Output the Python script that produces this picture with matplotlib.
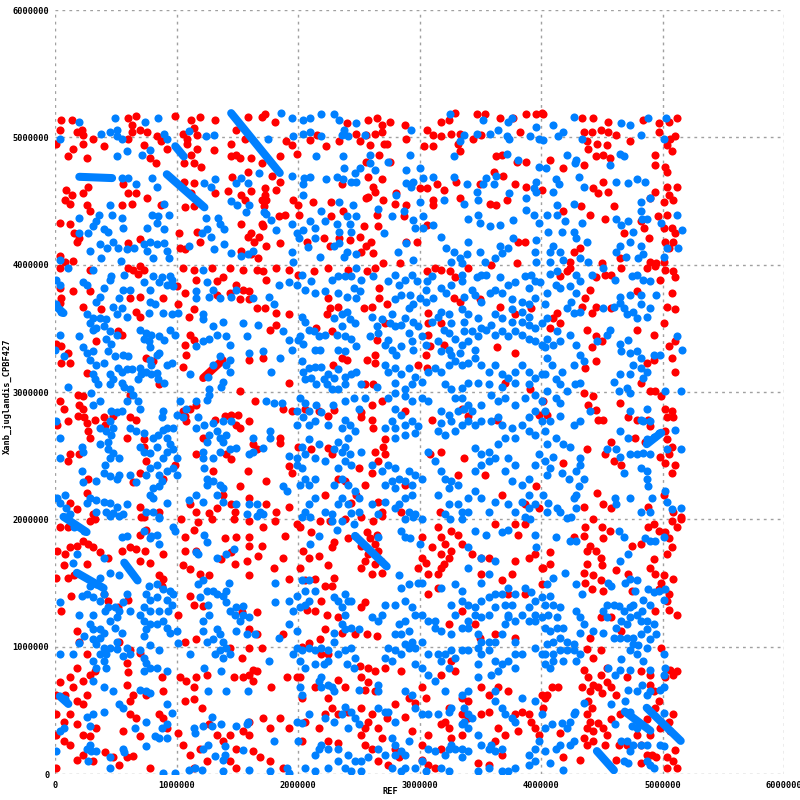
import matplotlib
matplotlib.use("Agg")
import matplotlib.pyplot as plt

# hit positions in Mb: (REF, Xanb_juglandis_CPBF427)
# red = forward hits, blue = reverse hits

red_top = [
    (0.05,5.14),(0.14,5.14),(0.04,5.06),(0.18,5.04),(0.23,5.02),(0.22,5.06),(0.31,4.99),(0.23,4.95),
    (0.01,4.95),(0.15,4.91),(0.11,4.85),(0.26,4.84),(0.40,4.93),(0.60,5.15),(0.67,5.17),(0.63,5.10),
    (0.63,5.04),(0.70,5.06),(0.76,5.04),(0.60,4.99),(0.73,4.94),(0.78,4.84),(0.83,4.80),(0.92,4.91),
    (0.87,4.97),(0.84,5.01),(0.99,5.17),(1.05,5.03),(1.09,4.99),(1.12,5.14),(1.19,5.16),(1.17,5.02),
    (1.14,5.07),(1.32,5.14),(1.09,4.95),(1.12,4.86),(1.17,4.91),(1.14,4.80),(1.20,4.77),(1.06,4.80),
    (1.31,4.90),(1.45,4.95),(1.49,4.86),(1.45,4.85),(1.52,4.84),(1.61,4.84),(1.70,4.80),(1.59,5.16),
    (1.70,5.16),(1.49,5.06),(1.56,4.99),(1.59,4.73),(0.09,4.59),(0.14,4.55),(0.08,4.51),(0.12,4.48),
    (0.23,4.56),(0.27,4.61),(0.26,4.47),(0.29,4.42),(0.56,4.63),(0.60,4.56),(0.67,4.56),(0.76,4.52),
    (0.63,4.48),(0.55,4.47),(0.87,4.47),(1.06,4.65),(1.14,4.64),(1.12,4.56),(1.07,4.45),(1.14,4.46),
    (1.32,4.56),(1.42,4.58),(1.53,4.55),(1.56,4.51),(1.61,4.58),(1.70,4.51),(1.72,4.46),(1.46,4.69),
    (0.04,4.33),(0.12,4.32),(0.16,4.25),(0.20,4.21),(0.18,4.18),(1.02,4.25),(1.17,4.26),(1.19,4.18),
    (1.53,4.32),(1.61,4.25),(1.64,4.18),(1.59,4.22),(1.70,4.32),(1.68,4.22),(0.60,4.17),(0.70,4.20),
    (1.03,4.13),(1.07,4.12),(1.53,4.11),(1.61,4.08),(1.67,4.05),(0.04,4.07),(0.08,4.02),(0.15,4.03),
    (1.81,5.12),(1.73,5.18),(2.40,5.11),(2.58,5.14),(2.65,5.15),(2.76,5.12),(2.69,5.10),(2.88,5.10),
    (3.18,5.12),(3.24,5.14),(3.29,5.19),(3.47,5.18),(3.54,5.18),(3.66,5.15),(3.77,5.15),(3.88,5.18),
    (3.96,5.18),(4.01,5.19),(2.10,4.98),(2.16,5.02),(1.95,4.94),(1.99,4.87),(1.90,4.97),(2.48,5.03),
    (2.56,5.02),(2.63,5.03),(2.69,5.04),(2.71,4.95),(2.59,4.94),(2.51,4.97),(2.89,4.99),(3.06,5.06),
    (3.11,5.02),(3.18,5.01),(3.26,5.03),(3.33,5.03),(3.44,4.99),(3.51,5.02),(3.83,5.04),(3.04,4.93),
    (3.11,4.93),(3.32,4.95),(3.33,4.89),(3.63,4.85),(3.68,4.86),(3.80,4.81),(3.88,4.81),(2.73,4.95),
    (1.85,4.85),(2.23,4.93),(2.34,4.97),(2.67,4.86),(2.56,4.81),(2.76,4.81),(1.79,4.70),(1.85,4.65),
    (1.82,4.59),(1.73,4.60),(2.36,4.63),(2.58,4.69),(2.69,4.67),(2.62,4.61),(2.58,4.53),(2.63,4.57),
    (2.81,4.56),(3.00,4.60),(3.06,4.60),(3.14,4.63),(3.20,4.59),(3.30,4.65),(3.50,4.63),(3.61,4.73),
    (3.69,4.70),(3.79,4.63),(3.88,4.61),(1.73,4.55),(1.74,4.51),(1.96,4.51),(2.00,4.47),(2.12,4.49),
    (2.27,4.49),(2.56,4.52),(2.70,4.51),(2.80,4.48),(2.89,4.47),(3.11,4.51),(3.11,4.47),(3.33,4.52),
    (3.58,4.48),(3.63,4.47),(3.72,4.51),(1.71,4.30),(1.84,4.38),(1.89,4.39),(2.01,4.39),(2.27,4.38),
    (2.37,4.42),(2.54,4.30),(2.65,4.39),(2.66,4.30),(2.87,4.38),(3.06,4.31),(1.85,4.17),(1.74,4.15),
    (2.07,4.18),(2.21,4.21),(2.26,4.15),(2.34,4.21),(2.43,4.19),(2.51,4.22),(2.56,4.15),(2.60,4.18),
    (2.52,4.10),(2.62,4.09),(2.70,4.01),(2.89,4.18),(2.98,4.18),(2.84,4.01),(3.81,4.18),(3.87,4.18),
    (3.80,4.01),(3.59,4.00),
    (4.02,5.18),(4.34,5.15),(4.43,5.15),(4.55,5.12),(4.35,5.04),(4.42,5.04),(4.49,5.06),(4.55,5.04),
    (4.62,5.02),(4.38,4.97),(4.46,4.95),(4.54,4.94),(4.39,4.91),(4.45,4.85),(4.51,4.86),(4.57,4.84),
    (4.73,4.97),(4.84,5.14),(4.97,5.11),(5.05,5.12),(5.12,5.15),(4.97,5.04),(5.06,4.99),(5.10,5.01),
    (5.04,4.94),(5.08,4.89),(4.94,4.86),(4.94,4.78),(5.02,4.77),(5.04,4.73),(4.07,4.82),(4.18,4.76),
    (4.35,4.78),(4.51,4.65),(4.43,4.60),(4.47,4.56),(4.55,4.57),(4.01,4.59),(5.04,4.61),(5.12,4.61),
    (4.94,4.57),(4.90,4.52),(5.01,4.49),(5.09,4.51),(5.05,4.55),(4.33,4.46),(4.18,4.42),(4.40,4.39),
    (4.60,4.46),(4.53,4.36),(4.82,4.34),(4.96,4.38),(5.04,4.39),(5.01,4.29),(5.08,4.29),(5.10,4.25),
    (4.68,4.25),(4.89,4.21),(4.85,4.29),(4.27,4.10),(4.24,4.02),(4.32,4.13),(5.02,4.18),(5.09,4.18),
    (5.05,4.13),(4.65,4.05),(4.90,4.02),(4.95,4.01),(5.01,4.02),(4.50,4.01),
]

red_mid = [
    (0.04,3.97),(0.29,3.96),(0.60,3.97),(0.64,3.96),(0.70,3.99),(0.73,3.96),(0.68,3.93),(1.05,3.97),
    (1.14,3.96),(1.29,3.97),(1.44,3.97),(1.55,3.96),(1.66,3.96),(1.71,3.95),(1.82,3.97),(1.93,3.96),
    (2.00,3.92),(1.38,3.90),(1.33,3.87),(1.49,3.84),(1.55,3.80),(1.60,3.79),(1.44,3.78),(1.33,3.76),
    (1.74,3.88),(1.52,3.73),(1.60,3.73),(1.66,3.66),(1.73,3.66),(1.82,3.62),(1.93,3.61),(0.04,3.82),
    (0.05,3.74),(0.04,3.70),(0.15,3.79),(0.29,3.79),(0.62,3.74),(0.70,3.75),(0.89,3.74),(1.01,3.69),
    (1.14,3.65),(1.10,3.59),(1.00,3.83),(1.07,3.78),(1.16,3.88),(0.67,3.63),(0.70,3.59),(0.55,3.45),
    (0.52,3.48),(0.38,3.65),(0.23,3.67),(1.11,3.45),(1.14,3.41),(1.07,3.37),(1.08,3.29),(1.05,3.20),
    (1.77,3.49),(1.82,3.53),(1.60,3.25),(1.71,3.27),(1.93,3.07),(1.52,3.01),(0.01,3.38),(0.05,3.36),
    (0.11,3.31),(0.05,3.23),(0.12,3.23),(0.34,3.40),(0.26,3.15),(0.75,3.27),(0.81,3.24),(0.86,3.06),
    (0.62,2.98),(0.04,2.93),(0.07,2.87),(0.19,2.98),(0.23,2.97),(0.20,2.90),(0.23,2.87),(0.19,2.81),
    (0.24,2.80),(0.26,2.76),(0.33,2.78),(0.40,2.80),(0.48,2.81),(0.41,2.74),(0.11,2.77),(0.02,2.74),
    (0.29,2.64),(0.27,2.69),(0.12,2.51),(0.11,2.46),(0.20,2.51),(0.62,2.80),(0.67,2.78),(0.59,2.64),
    (0.73,2.63),(0.73,2.57),(0.75,2.46),(0.89,2.32),(0.99,2.43),(0.70,2.36),(0.64,2.29),(0.12,2.13),
    (0.18,2.08),(0.26,2.21),(0.27,2.32),(0.31,2.04),(0.70,2.10),(0.73,2.02),(0.86,2.06),(1.05,2.85),
    (1.11,2.87),(1.16,2.90),(1.07,2.81),(1.08,2.77),(1.16,2.51),(1.22,2.64),(1.32,2.78),(1.40,2.81),
    (1.45,2.82),(1.51,2.82),(1.49,2.74),(1.52,2.72),(1.41,2.51),(1.45,2.47),(1.60,2.77),(1.65,2.93),
    (1.88,2.87),(1.95,2.85),(1.85,2.64),(1.85,2.60),(1.63,2.59),(1.66,2.55),(1.93,2.42),(1.95,2.36),
    (1.59,2.38),(1.74,2.30),(1.52,2.26),(1.38,2.19),(1.45,2.12),(1.48,2.06),(1.11,2.12),(1.16,2.06),
    (1.27,2.05),(1.33,2.09),(1.82,2.06),(1.74,2.12),(1.30,2.38),(1.60,2.17),(1.93,2.10),(2.00,2.57),
    (2.13,3.95),(2.25,3.97),(2.41,3.96),(2.57,3.95),(2.63,3.97),(2.25,3.74),(2.26,3.66),(2.24,3.61),
    (2.33,3.67),(2.54,3.66),(2.61,3.67),(2.67,3.82),(2.67,3.74),(2.73,3.69),(3.06,3.95),(3.13,3.97),
    (3.18,3.96),(3.25,3.95),(3.29,3.90),(3.40,3.97),(3.28,3.74),(3.33,3.71),(3.50,3.73),(3.66,3.67),
    (3.79,3.61),(3.92,3.66),(2.28,3.48),(2.15,3.50),(2.36,3.27),(2.40,3.25),(2.57,3.25),(2.63,3.29),
    (2.72,3.54),(2.65,3.41),(3.07,3.62),(3.07,3.54),(3.07,3.45),(3.09,3.36),(3.05,3.29),(3.18,3.54),
    (3.20,3.37),(3.64,3.35),(3.79,3.31),(2.29,3.21),(2.63,3.23),(2.55,3.06),(2.62,3.06),(3.06,3.19),
    (2.99,3.21),(3.70,3.07),(3.91,3.02),(2.06,2.87),(2.17,2.85),(2.25,2.81),(2.30,2.86),(2.52,2.84),
    (2.61,2.90),(2.69,2.93),(2.61,2.78),(2.62,2.72),(2.88,2.85),(3.10,2.78),(3.35,2.87),(3.40,2.81),
    (3.64,2.78),(3.98,2.82),(2.52,2.80),(2.72,2.63),(2.70,2.57),(2.11,2.55),(2.25,2.56),(2.28,2.51),
    (2.33,2.32),(2.39,2.30),(2.50,2.40),(2.55,2.27),(2.61,2.36),(2.66,2.46),(2.72,2.51),(2.63,2.53),
    (2.48,2.19),(2.22,2.19),(2.44,2.13),(2.66,2.14),(2.69,2.06),(2.85,2.06),(2.88,2.27),(3.09,2.51),
    (3.18,2.53),(3.37,2.48),(3.32,2.35),(3.68,2.19),(3.96,2.26),(3.87,2.12),(3.98,2.09),(3.17,2.06),
    (3.54,2.35),
    (4.21,3.95),(4.16,3.91),(4.24,3.97),(4.45,3.90),(4.53,3.92),(4.66,3.97),(4.58,3.92),(4.87,3.97),
    (4.94,3.99),(5.02,3.96),(5.09,3.95),(5.10,3.90),(4.98,3.88),(4.40,3.80),(4.36,3.74),(4.34,3.67),
    (4.45,3.67),(4.42,3.62),(4.58,3.66),(4.13,3.62),(4.10,3.58),(4.16,3.54),(4.07,3.50),(4.38,3.49),
    (4.45,3.44),(4.50,3.40),(4.42,3.35),(4.45,3.24),(4.36,3.19),(4.79,3.79),(4.79,3.49),(4.93,3.45),
    (5.01,3.54),(5.04,3.67),(5.10,3.65),(5.08,3.78),(5.05,3.36),(5.10,3.40),(5.08,3.27),(5.10,3.16),
    (4.93,3.25),(4.87,3.23),(4.82,3.07),(4.90,3.01),(4.94,3.01),(4.99,2.97),(5.02,2.87),(5.08,2.85),
    (5.04,2.80),(5.09,2.80),(5.02,2.69),(5.04,2.63),(5.08,2.57),(5.05,2.51),(5.02,2.44),(5.10,2.43),
    (5.08,2.36),(4.35,2.99),(4.43,2.97),(4.39,2.90),(4.45,2.86),(4.47,2.78),(4.51,2.78),(4.65,2.91),
    (4.72,2.80),(4.79,2.78),(4.88,2.78),(4.90,2.73),(4.77,2.64),(4.58,2.61),(4.53,2.51),(4.60,2.46),
    (4.66,2.43),(4.98,2.49),(4.86,2.61),(4.38,2.55),(4.18,2.44),(4.46,2.21),(4.51,2.12),(4.58,2.09),
    (4.35,2.10),(4.88,2.10),(5.09,2.06),(5.15,2.02),(4.05,2.82),(4.02,2.93),(5.01,2.19),
]

red_low = [
    (0.04,1.94),(0.11,1.94),(0.29,1.99),(0.33,2.00),(0.23,1.83),(0.31,1.78),(0.27,1.81),(0.02,1.75),
    (0.08,1.73),(0.12,1.78),(0.18,1.79),(0.07,1.64),(0.01,1.54),(0.11,1.54),(0.16,1.56),(0.26,1.65),
    (0.37,1.74),(0.44,1.70),(0.55,1.75),(0.62,1.78),(0.67,1.77),(0.74,1.75),(0.70,1.67),(0.78,1.66),
    (0.89,1.73),(0.70,1.88),(0.71,2.02),(0.75,1.92),(0.86,1.56),(0.89,1.53),(0.88,1.48),(1.04,2.00),
    (1.07,1.86),(1.14,1.92),(1.18,1.98),(1.29,2.00),(1.47,2.00),(1.60,1.99),(1.71,1.94),(1.81,1.99),
    (1.89,1.87),(1.99,1.96),(1.07,1.75),(1.16,1.75),(1.05,1.64),(1.11,1.61),(1.19,1.57),(1.27,1.56),
    (1.37,1.69),(1.45,1.74),(1.48,1.65),(1.58,1.67),(1.60,1.56),(1.60,1.79),(1.67,1.71),(1.70,1.79),
    (1.40,1.85),(1.49,1.86),(1.60,1.86),(1.80,1.62),(1.88,1.70),(1.93,1.53),(0.13,1.40),(0.05,1.28),
    (0.40,1.41),(0.44,1.36),(0.52,1.31),(0.60,1.37),(1.01,1.25),(1.07,1.04),(1.16,1.06),(1.14,1.33),
    (1.22,1.32),(1.11,1.40),(1.54,1.27),(1.66,1.27),(1.60,1.14),(1.66,1.10),(1.88,1.10),(1.44,0.99),
    (1.60,0.99),(1.54,0.91),(1.63,0.82),(1.70,0.99),(0.18,1.12),(0.20,1.04),(0.26,0.94),(0.18,0.83),
    (0.12,0.76),(0.04,0.72),(0.01,0.62),(0.08,0.62),(0.15,0.68),(0.23,0.73),(0.29,0.78),(0.26,0.62),
    (0.18,0.57),(0.23,0.55),(0.33,0.81),(0.53,1.04),(0.62,0.97),(0.70,0.95),(0.60,0.80),(0.59,0.70),
    (0.62,0.57),(0.64,0.62),(0.75,0.62),(0.89,0.65),(1.03,0.76),(1.08,0.73),(1.14,0.68),(1.16,0.76),
    (1.25,0.78),(1.07,0.57),(1.14,0.59),(1.21,0.52),(1.47,0.76),(1.55,0.76),(1.60,0.78),(1.66,0.81),
    (1.63,0.73),(1.78,0.68),(1.91,0.76),(1.99,0.76),(0.01,0.47),(0.07,0.41),(0.12,0.47),(0.18,0.39),
    (0.23,0.31),(0.29,0.30),(0.01,0.31),(0.07,0.26),(0.12,0.23),(0.23,0.15),(0.34,0.36),(0.62,0.47),
    (0.67,0.44),(0.56,0.34),(0.70,0.30),(0.86,0.47),(0.89,0.44),(0.92,0.36),(1.01,0.32),(1.05,0.23),
    (1.11,0.15),(1.19,0.20),(1.27,0.39),(1.33,0.31),(1.38,0.26),(1.44,0.31),(1.49,0.20),(1.55,0.34),
    (1.60,0.41),(1.60,0.31),(1.71,0.44),(1.77,0.36),(1.85,0.44),(1.93,0.36),(1.63,0.18),(1.69,0.13),
    (1.77,0.10),(1.88,0.05),(1.14,0.05),(1.25,0.10),(1.44,0.10),(1.49,0.05),(0.01,0.05),(0.18,0.11),
    (0.31,0.10),(0.41,0.17),(0.48,0.13),(0.53,0.07),(0.59,0.13),(0.64,0.14),(0.78,0.05),(0.59,0.87),
    (0.88,0.76),
    (2.02,1.94),(2.11,1.90),(2.18,1.99),(2.26,1.99),(2.39,2.00),(2.52,2.02),(2.62,1.99),(2.69,2.03),
    (2.57,1.90),(2.52,1.79),(2.58,1.73),(2.63,1.65),(2.61,1.57),(2.69,1.58),(2.59,1.85),(2.63,1.81),
    (2.30,1.82),(2.41,1.85),(2.28,1.78),(2.25,1.64),(2.17,1.71),(2.04,1.75),(2.09,1.70),(2.02,1.62),
    (2.06,1.52),(2.14,1.53),(2.22,1.48),(2.28,1.48),(2.30,1.54),(2.19,1.36),(2.14,1.28),(2.07,1.29),
    (2.24,1.25),(2.33,1.23),(2.52,1.31),(2.55,1.35),(2.36,1.11),(2.22,1.14),(2.18,1.06),(2.09,1.03),
    (2.03,1.00),(2.19,0.94),(2.25,0.94),(2.47,1.10),(2.57,1.10),(2.65,1.08),(2.51,0.85),(2.58,0.83),
    (2.63,0.81),(2.72,0.83),(2.52,0.76),(2.58,0.72),(2.55,0.66),(2.63,0.65),(2.33,0.74),(2.39,0.68),
    (2.25,0.60),(2.14,0.68),(2.02,0.76),(2.03,0.60),(2.28,0.52),(2.22,0.47),(2.33,0.47),(2.41,0.49),
    (2.52,0.52),(2.61,0.47),(2.58,0.41),(2.55,0.36),(2.66,0.36),(2.73,0.44),(2.80,0.55),(2.06,0.41),
    (2.17,0.36),(2.03,0.26),(2.25,0.26),(2.33,0.24),(2.52,0.31),(2.55,0.23),(2.61,0.20),(2.69,0.28),
    (2.66,0.10),(2.74,0.07),(2.83,0.13),(2.94,0.34),(3.02,0.23),(3.07,0.31),(3.02,0.11),(3.07,0.07),
    (2.80,0.20),(2.85,0.81),(2.91,0.60),(3.02,0.68),(3.05,0.60),(2.88,0.45),(2.96,0.56),(3.15,1.94),
    (3.18,1.86),(3.21,1.81),(3.26,1.91),(3.32,1.88),(3.26,1.75),(3.35,1.81),(3.43,1.73),(3.51,1.70),
    (3.57,1.70),(3.18,1.73),(3.20,1.65),(3.24,1.70),(3.02,1.86),(3.10,1.78),(3.02,1.70),(3.05,1.66),
    (2.99,1.62),(3.07,1.57),(3.15,1.57),(3.18,1.62),(3.51,1.57),(3.07,1.41),(3.15,1.46),(3.24,1.18),
    (3.35,1.28),(3.46,1.18),(3.50,1.07),(3.62,1.10),(3.79,1.07),(3.18,0.78),(3.29,0.81),(3.26,0.89),
    (3.35,0.60),(3.40,0.57),(3.51,0.68),(3.57,0.62),(3.65,0.68),(3.73,0.65),(3.24,0.52),(3.21,0.41),
    (3.18,0.39),(3.24,0.36),(3.35,0.47),(3.40,0.44),(3.51,0.47),(3.57,0.49),(3.65,0.36),(3.70,0.31),
    (3.79,0.47),(3.84,0.49),(3.90,0.47),(3.92,0.41),(4.01,0.62),(4.02,0.52),(3.95,0.36),(3.98,0.31),
    (3.81,0.34),(3.62,0.26),(3.68,0.15),(3.57,0.07),(3.48,0.09),(3.26,0.28),(3.35,0.31),(3.18,0.20),
    (3.13,0.05),(3.68,1.52),(3.73,1.41),(3.76,1.57),(3.79,1.67),(3.90,1.70),(3.95,1.73),(4.01,1.62),
    (4.01,1.49),(3.87,1.41),(3.62,1.96),(3.81,1.88),(3.87,1.96),(3.79,1.96),(2.66,1.75),(2.68,1.67),
    (2.55,1.67),(2.52,1.62),(2.65,1.88),
    (4.43,2.00),(4.50,1.94),(4.57,1.91),(4.36,1.94),(4.35,1.87),(4.27,1.86),(4.51,1.85),(4.40,1.79),
    (4.38,1.75),(4.45,1.75),(4.49,1.70),(4.50,1.64),(4.38,1.65),(4.35,1.58),(4.43,1.56),(4.49,1.52),
    (4.36,1.50),(4.42,1.45),(4.51,1.44),(4.62,1.60),(4.72,1.57),(4.07,1.74),(4.07,1.65),(4.02,1.62),
    (4.88,1.94),(4.93,1.96),(4.97,1.91),(5.02,1.90),(5.08,1.99),(5.12,1.94),(5.15,2.00),(5.05,1.85),
    (5.08,1.78),(5.04,1.73),(4.93,1.69),(4.90,1.62),(4.94,1.57),(5.01,1.56),(5.09,1.53),(4.99,1.50),
    (4.97,1.45),(5.05,1.41),(5.05,1.29),(5.12,1.25),(5.04,1.36),(4.94,1.28),(4.82,1.81),(4.75,1.79),
    (4.75,1.44),(4.66,1.12),(4.58,1.23),(4.49,1.23),(4.40,1.07),(4.38,0.98),(4.43,0.91),(4.49,0.97),
    (4.35,0.82),(4.39,0.76),(4.43,0.70),(4.47,0.68),(4.40,0.65),(4.50,0.64),(4.54,0.72),(4.58,0.68),
    (4.62,0.62),(4.49,0.78),(4.54,0.83),(4.39,0.57),(4.42,0.52),(4.71,0.76),(4.82,0.81),(4.90,0.78),
    (4.90,0.70),(4.93,0.65),(4.97,0.57),(4.94,0.52),(4.87,0.43),(4.99,0.99),(5.06,0.82),(5.09,0.78),
    (5.02,0.76),(5.12,0.81),(4.05,0.62),(4.03,0.60),(4.09,0.68),(4.14,0.68),(4.34,0.68),(4.38,0.47),
    (4.40,0.41),(4.38,0.36),(4.43,0.34),(4.47,0.40),(4.51,0.36),(4.54,0.31),(4.43,0.26),(4.35,0.28),
    (4.38,0.23),(4.53,0.23),(4.16,0.32),(4.18,0.13),(4.32,0.11),(4.64,0.23),(4.62,0.11),(4.71,0.23),
    (4.79,0.31),(4.82,0.23),(4.87,0.15),(4.82,0.09),(4.91,0.15),(4.95,0.13),(5.04,0.13),(5.09,0.10),
    (5.12,0.05),(5.04,0.05),(4.98,0.36),(5.05,0.41),(5.09,0.47),(5.06,0.34),(5.10,0.19),(4.90,0.31),
    (4.65,0.47),(4.58,0.43),
]

blue_top = [
    (0.20,5.12),(0.04,4.99),(0.38,5.03),(0.45,5.04),(0.51,5.06),(0.51,5.01),(0.55,4.99),(0.49,5.15),
    (0.74,5.12),(0.85,5.15),(0.90,5.03),(0.92,4.99),(1.10,5.05),(1.24,5.01),(1.31,5.02),(0.51,4.85),
    (0.59,4.89),(0.72,4.86),(0.78,4.90),(1.68,4.72),(0.55,4.68),(0.60,4.68),(0.67,4.63),(0.80,4.68),
    (0.84,4.61),(0.90,4.48),(1.23,4.64),(1.32,4.67),(1.28,4.61),(1.45,4.50),(1.50,4.47),(1.60,4.47),
    (1.57,4.41),(1.72,4.41),(1.49,4.64),(1.59,4.64),(1.53,4.68),(0.20,4.37),(0.36,4.39),(0.34,4.34),
    (0.31,4.30),(0.27,4.25),(0.20,4.25),(0.45,4.47),(0.47,4.39),(0.55,4.37),(0.40,4.28),(0.44,4.26),
    (0.56,4.29),(0.76,4.29),(0.80,4.39),(0.85,4.38),(0.84,4.33),(0.90,4.28),(0.94,4.39),(1.24,4.37),
    (1.34,4.37),(1.25,4.28),(1.28,4.22),(1.21,4.25),(1.36,4.32),(1.39,4.28),(0.37,4.16),(0.43,4.13),
    (0.48,4.18),(0.52,4.13),(0.59,4.12),(0.65,4.13),(0.73,4.16),(0.78,4.18),(0.84,4.16),(0.90,4.17),
    (0.92,4.11),(0.94,4.05),(0.76,4.11),(0.81,4.05),(1.10,4.15),(1.31,4.12),(1.39,4.16),(1.45,4.09),
    (1.53,4.07),(1.59,4.08),(1.63,4.11),(0.04,4.04),(0.29,4.11),(0.38,4.05),(0.54,4.03),
    (1.86,5.19),(1.95,5.15),(2.04,5.14),(2.10,5.15),(2.19,5.18),(2.30,5.18),(2.34,5.14),(2.48,5.11),
    (2.93,5.06),(3.25,5.18),(3.52,5.14),(3.73,5.12),(3.76,5.15),(3.96,5.08),(2.04,5.03),(2.10,5.04),
    (1.96,5.01),(2.19,5.01),(2.38,5.06),(2.41,5.01),(2.36,5.02),(2.55,5.02),(3.37,5.02),(3.47,5.03),
    (3.58,5.03),(3.65,5.06),(3.72,5.01),(3.74,4.99),(3.91,5.01),(3.98,4.99),(1.75,4.99),(3.72,4.87),
    (3.81,4.82),(3.28,4.85),(3.33,4.97),(2.15,4.85),(2.37,4.85),(2.59,4.86),(2.92,4.86),(2.74,4.81),
    (1.95,4.70),(2.05,4.68),(2.10,4.69),(2.04,4.63),(2.23,4.67),(2.32,4.69),(2.37,4.67),(2.44,4.65),
    (2.48,4.65),(2.47,4.72),(2.51,4.76),(2.59,4.80),(2.63,4.74),(2.38,4.76),(2.89,4.74),(3.00,4.76),
    (2.89,4.64),(2.95,4.65),(2.93,4.61),(3.03,4.68),(3.11,4.69),(3.28,4.69),(3.39,4.63),(3.47,4.57),
    (3.55,4.68),(3.63,4.70),(3.61,4.63),(3.52,4.63),(3.74,4.56),(3.96,4.65),(3.94,4.60),(3.98,4.77),
    (2.04,4.55),(2.34,4.49),(2.45,4.47),(2.66,4.44),(2.81,4.55),(3.00,4.49),(3.20,4.51),(3.37,4.48),
    (3.48,4.51),(3.88,4.52),(3.96,4.57),(2.87,4.42),(2.95,4.35),(1.74,4.40),(1.78,4.35),(1.82,4.27),
    (1.95,4.32),(1.99,4.25),(2.04,4.27),(2.10,4.34),(2.14,4.29),(2.19,4.42),(2.22,4.34),(2.32,4.32),
    (2.40,4.38),(2.43,4.32),(2.48,4.38),(2.44,4.26),(2.34,4.26),(2.71,4.25),(2.77,4.38),(2.96,4.29),
    (3.03,4.38),(3.03,4.29),(3.11,4.31),(3.40,4.36),(3.48,4.39),(3.50,4.33),(3.58,4.30),(3.66,4.31),
    (3.77,4.35),(3.88,4.43),(3.94,4.39),(3.98,4.33),(1.95,4.10),(1.96,4.02),(2.01,4.21),(2.08,4.14),
    (2.18,4.06),(2.14,4.21),(2.30,4.15),(2.34,4.17),(2.40,4.10),(2.48,4.08),(2.38,4.06),(2.82,4.10),
    (2.89,4.17),(2.95,4.04),(3.18,4.22),(3.22,4.13),(3.28,4.10),(3.33,4.05),(3.39,4.08),(3.40,4.18),
    (3.50,4.10),(3.54,4.02),(3.62,4.05),(3.68,4.09),(3.73,4.13),(3.77,4.21),(3.96,4.19),(3.95,4.10),
    (3.96,4.02),(3.66,4.15),(3.26,4.02),(3.35,4.01),
    (4.10,5.10),(4.18,5.04),(4.14,5.01),(4.27,5.16),(4.66,5.11),(4.73,5.10),(4.82,5.02),(4.88,5.15),
    (5.03,5.15),(5.01,4.99),(4.34,4.99),(4.02,4.98),(4.21,4.86),(4.28,4.80),(4.29,4.82),(4.57,4.78),
    (4.65,4.87),(4.68,4.85),(4.04,4.76),(4.31,4.69),(4.12,4.67),(4.15,4.63),(4.10,4.57),(4.35,4.61),
    (4.62,4.65),(4.72,4.64),(4.79,4.67),(4.86,4.65),(4.82,4.49),(4.90,4.52),(4.27,4.48),(4.13,4.47),
    (4.05,4.39),(4.13,4.39),(4.20,4.34),(4.17,4.26),(4.06,4.26),(4.27,4.26),(4.34,4.33),(4.29,4.21),
    (4.38,4.18),(4.10,4.15),(4.16,4.10),(4.07,4.10),(4.07,4.02),(4.18,4.04),(4.32,4.05),(4.39,4.02),
    (4.62,4.36),(4.66,4.31),(4.72,4.34),(4.76,4.26),(4.73,4.18),(4.65,4.15),(4.62,4.10),(4.70,4.06),
    (4.82,4.15),(4.84,4.08),(4.80,4.05),(4.83,4.36),(4.87,4.36),(4.82,4.42),(4.99,4.33),(5.16,4.27),
    (5.12,4.39),(5.13,4.13),(5.01,4.06),(5.04,4.13),
]

blue_mid = [
    (0.31,3.96),(0.11,3.97),(0.57,3.92),(0.46,3.91),(0.45,3.88),(0.81,3.91),(0.88,3.90),(0.95,3.91),
    (0.86,3.86),(0.92,3.84),(0.97,3.83),(0.96,3.88),(1.22,3.96),(1.25,3.86),(1.30,3.80),(1.16,3.79),
    (1.16,3.74),(1.27,3.75),(1.36,3.74),(1.45,3.75),(1.49,3.80),(1.63,3.74),(1.76,3.75),(1.80,3.69),
    (1.84,3.84),(1.93,3.86),(1.99,3.84),(0.01,3.88),(0.04,3.84),(0.01,3.69),(0.05,3.63),(0.23,3.86),
    (0.26,3.84),(0.40,3.82),(0.37,3.75),(0.34,3.71),(0.56,3.80),(0.53,3.74),(0.62,3.80),(0.48,3.67),
    (0.51,3.61),(0.55,3.66),(0.59,3.59),(0.26,3.61),(0.31,3.58),(0.37,3.58),(0.42,3.57),(0.29,3.54),
    (0.34,3.50),(0.40,3.52),(0.45,3.48),(0.51,3.45),(0.42,3.42),(0.46,3.38),(0.31,3.49),(0.73,3.86),
    (0.78,3.80),(0.78,3.71),(0.82,3.69),(0.77,3.62),(0.89,3.62),(0.96,3.61),(1.01,3.62),(0.70,3.49),
    (0.75,3.46),(0.79,3.45),(0.86,3.44),(0.90,3.41),(0.95,3.49),(0.99,3.45),(0.73,3.42),(0.77,3.40),
    (1.22,3.61),(1.22,3.57),(1.30,3.52),(1.38,3.55),(1.33,3.45),(1.41,3.44),(1.44,3.37),(1.27,3.42),
    (1.22,3.40),(1.16,3.36),(1.55,3.54),(1.67,3.53),(1.58,3.44),(1.88,3.48),(1.93,3.41),(1.95,3.33),
    (2.00,3.41),(1.71,3.32),(1.85,3.27),(1.78,3.16),(1.60,3.31),(1.44,3.25),(1.41,3.21),(1.44,3.16),
    (1.38,3.08),(1.37,3.04),(1.30,3.21),(1.26,3.12),(1.11,3.14),(1.36,3.28),(0.04,3.45),(0.20,3.44),
    (0.00,3.33),(0.07,3.28),(0.23,3.35),(0.26,3.31),(0.31,3.32),(0.29,3.25),(0.34,3.21),(0.40,3.23),
    (0.31,3.14),(0.33,3.10),(0.35,3.06),(0.44,3.32),(0.49,3.28),(0.56,3.29),(0.60,3.28),(0.52,3.19),
    (0.55,3.16),(0.59,3.18),(0.63,3.18),(0.45,3.14),(0.48,3.10),(0.45,3.06),(0.55,3.07),(0.57,3.04),
    (0.62,3.02),(0.68,3.10),(0.71,3.14),(0.75,3.16),(0.79,3.14),(0.84,3.15),(0.85,3.10),(0.90,3.07),
    (0.79,3.21),(0.84,3.29),(0.86,3.31),(0.78,3.25),(0.92,3.21),(0.96,3.23),(0.70,3.19),(0.78,3.35),
    (0.11,3.04),(0.01,2.77),(0.04,2.64),(0.04,2.48),(0.30,2.99),(0.37,2.93),(0.31,2.90),(0.46,2.85),
    (0.51,2.84),(0.55,2.85),(0.45,2.77),(0.48,2.72),(0.37,2.72),(0.42,2.69),(0.46,2.66),(0.44,2.61),
    (0.37,2.59),(0.44,2.55),(0.48,2.52),(0.45,2.48),(0.53,2.48),(0.41,2.43),(0.40,2.36),(0.45,2.34),
    (0.51,2.32),(0.53,2.35),(0.62,2.35),(0.67,2.29),(0.34,2.30),(0.23,2.29),(0.22,2.38),(0.22,2.57),
    (0.23,2.53),(0.59,2.93),(0.64,2.98),(0.68,2.93),(0.70,2.87),(0.62,2.72),(0.67,2.69),(0.73,2.68),
    (0.70,2.57),(0.73,2.53),(0.78,2.52),(0.84,2.57),(0.81,2.64),(0.85,2.66),(0.89,2.70),(0.92,2.72),
    (0.97,2.72),(0.89,2.85),(0.88,2.80),(0.92,2.64),(0.95,2.59),(0.92,2.53),(0.97,2.55),(1.00,2.48),
    (0.89,2.48),(0.84,2.43),(0.78,2.40),(0.75,2.35),(0.86,2.35),(0.92,2.38),(0.97,2.40),(1.00,2.35),
    (0.88,2.30),(0.86,2.26),(0.81,2.25),(0.78,2.19),(0.81,2.17),(0.29,2.17),(0.08,2.19),(0.02,2.17),
    (0.04,2.13),(0.09,2.09),(0.12,2.04),(0.26,2.13),(0.34,2.15),(0.40,2.14),(0.45,2.13),(0.34,2.06),
    (0.42,2.06),(0.48,2.05),(0.51,2.10),(0.59,2.12),(0.56,2.04),(0.75,2.06),(0.81,2.06),(0.86,2.01),
    (0.92,2.13),(1.03,2.93),(1.08,2.87),(1.05,2.80),(1.00,2.82),(1.25,2.94),(1.27,2.98),(1.27,3.02),
    (1.16,2.93),(1.18,2.80),(1.16,2.72),(1.23,2.74),(1.30,2.76),(1.33,2.69),(1.36,2.64),(1.38,2.61),
    (1.41,2.66),(1.27,2.66),(1.25,2.61),(1.22,2.53),(1.22,2.48),(1.30,2.48),(1.36,2.53),(1.44,2.55),
    (1.49,2.56),(1.60,2.51),(1.63,2.53),(1.63,2.64),(1.71,2.56),(1.77,2.69),(1.77,2.64),(1.74,2.93),
    (1.80,2.91),(1.87,2.91),(1.99,2.85),(1.99,2.74),(1.93,2.50),(1.99,2.48),(1.23,2.40),(1.25,2.32),
    (1.25,2.27),(1.30,2.30),(1.36,2.27),(1.38,2.25),(1.33,2.19),(1.10,2.15),(1.16,2.19),(1.22,2.14),
    (1.38,2.14),(1.49,2.12),(1.60,2.12),(1.66,2.12),(1.69,2.06),(1.58,2.04),(1.71,2.04),(1.88,2.26),
    (1.91,2.22),(1.99,2.43),(1.38,2.77),(1.45,2.77),
    (2.03,3.92),(2.11,3.87),(2.06,3.80),(2.14,3.78),(2.22,3.79),(2.28,3.88),(2.33,3.91),(2.39,3.91),
    (2.44,3.91),(2.48,3.97),(2.52,3.88),(2.62,3.91),(2.33,3.78),(2.40,3.75),(2.48,3.74),(2.51,3.79),
    (2.46,3.82),(2.74,3.87),(2.80,3.92),(2.83,3.84),(2.85,3.76),(2.80,3.73),(2.88,3.88),(2.94,3.92),
    (2.98,3.87),(2.92,3.76),(3.00,3.74),(3.05,3.80),(3.06,3.87),(3.10,3.91),(3.05,3.71),(3.11,3.74),
    (2.95,3.69),(3.18,3.82),(3.22,3.78),(3.26,3.84),(3.35,3.92),(3.35,3.87),(3.37,3.75),(3.43,3.80),
    (3.47,3.90),(3.51,3.92),(3.55,3.92),(3.46,3.76),(3.51,3.71),(3.58,3.78),(3.62,3.80),(3.68,3.78),
    (3.66,3.90),(3.73,3.84),(3.79,3.86),(3.87,3.91),(3.92,3.92),(3.95,3.87),(3.99,3.86),(3.90,3.82),
    (3.95,3.74),(3.84,3.71),(3.90,3.69),(3.76,3.73),(2.03,3.59),(2.06,3.55),(2.09,3.49),(2.02,3.44),
    (2.13,3.48),(2.17,3.44),(2.22,3.45),(2.04,3.38),(2.14,3.33),(2.18,3.33),(2.30,3.58),(2.36,3.61),
    (2.40,3.63),(2.43,3.57),(2.47,3.54),(2.36,3.52),(2.32,3.45),(2.39,3.44),(2.44,3.42),(2.48,3.36),
    (2.33,3.33),(2.39,3.32),(2.65,3.52),(2.69,3.57),(2.66,3.46),(2.59,3.44),(2.61,3.59),(2.77,3.61),
    (2.76,3.54),(2.80,3.52),(2.74,3.41),(2.72,3.37),(2.77,3.33),(2.85,3.53),(2.88,3.58),(2.91,3.46),
    (2.94,3.40),(2.95,3.33),(2.85,3.36),(2.81,3.29),(2.91,3.66),(2.95,3.55),(2.99,3.52),(3.02,3.44),
    (3.05,3.37),(3.10,3.55),(3.15,3.59),(3.18,3.63),(3.24,3.61),(3.26,3.54),(3.20,3.49),(3.15,3.40),
    (3.18,3.32),(3.24,3.33),(3.26,3.29),(3.33,3.31),(3.35,3.37),(3.40,3.40),(3.46,3.33),(3.37,3.48),
    (3.43,3.48),(3.48,3.44),(3.51,3.50),(3.55,3.49),(3.59,3.53),(3.62,3.45),(3.68,3.48),(3.73,3.44),
    (3.79,3.48),(3.84,3.45),(3.90,3.42),(3.95,3.40),(4.01,3.37),(3.95,3.50),(3.90,3.53),(3.84,3.55),
    (3.76,3.55),(3.68,3.58),(3.62,3.61),(3.76,3.65),(3.84,3.63),(3.90,3.59),(4.01,3.54),(3.48,3.58),
    (3.40,3.61),(3.35,3.65),(3.37,3.55),(3.29,3.42),(3.24,3.46),(2.03,3.24),(2.04,3.16),(2.09,3.19),
    (2.14,3.20),(2.19,3.20),(2.06,3.10),(2.11,3.11),(2.15,3.06),(2.21,3.10),(2.25,3.14),(2.24,3.06),
    (2.30,3.11),(2.33,3.18),(2.39,3.12),(2.44,3.14),(2.48,3.16),(2.39,3.06),(2.33,3.02),(2.28,3.02),
    (2.52,3.06),(2.65,3.04),(2.74,3.16),(2.72,3.21),(2.80,3.19),(2.85,3.14),(2.91,3.19),(2.96,3.12),
    (3.02,3.08),(2.94,3.06),(2.88,3.02),(2.80,3.07),(3.07,3.16),(3.13,3.19),(3.18,3.16),(3.24,3.21),
    (3.29,3.24),(3.35,3.21),(3.40,3.23),(3.46,3.27),(3.51,3.21),(3.57,3.16),(3.62,3.21),(3.68,3.14),
    (3.73,3.11),(3.79,3.16),(3.84,3.21),(3.90,3.16),(3.95,3.11),(4.01,3.14),(3.90,3.06),(3.79,3.07),
    (3.68,3.04),(3.57,3.06),(3.48,3.07),(3.40,3.07),(3.35,3.03),(3.26,3.02),(3.21,3.06),(2.02,2.95),
    (2.06,2.91),(2.09,2.85),(2.15,2.90),(2.19,2.84),(2.14,2.77),(2.09,2.74),(2.04,2.80),(2.29,2.90),
    (2.39,2.93),(2.46,2.95),(2.55,2.95),(2.50,2.87),(2.39,2.78),(2.36,2.72),(2.43,2.74),(2.47,2.69),
    (2.41,2.64),(2.33,2.61),(2.39,2.57),(2.25,2.74),(2.74,2.95),(2.80,2.99),(2.88,2.97),(2.94,2.93),
    (2.80,2.87),(2.85,2.82),(2.77,2.77),(2.72,2.72),(2.80,2.72),(2.88,2.74),(2.94,2.77),(2.99,2.73),
    (2.96,2.68),(2.88,2.66),(2.80,2.64),(3.02,2.95),(3.07,2.93),(3.18,2.85),(3.24,2.82),(3.26,2.77),
    (3.18,2.76),(3.15,2.69),(3.21,2.66),(3.29,2.69),(3.35,2.74),(3.40,2.77),(3.46,2.74),(3.51,2.77),
    (3.43,2.85),(3.37,2.87),(3.32,2.85),(3.29,2.95),(3.35,2.95),(3.40,2.90),(3.51,2.90),(3.59,2.98),
    (3.65,2.93),(3.70,2.95),(3.79,2.90),(3.87,2.95),(3.95,2.98),(4.01,2.93),(3.95,2.85),(3.90,2.80),
    (3.84,2.74),(3.76,2.72),(3.68,2.74),(3.65,2.80),(3.59,2.77),(3.70,2.64),(3.79,2.64),(3.90,2.69),
    (3.95,2.66),(4.01,2.77),(2.03,2.57),(2.09,2.63),(2.17,2.59),(2.06,2.51),(2.14,2.48),(2.22,2.46),
    (2.30,2.55),(2.36,2.53),(2.43,2.51),(2.39,2.46),(2.33,2.40),(2.44,2.43),(2.52,2.53),(2.61,2.43),
    (2.69,2.38),(2.74,2.43),(2.80,2.40),(2.83,2.32),(2.77,2.30),(2.72,2.27),(2.80,2.25),(2.88,2.30),
    (2.94,2.27),(2.96,2.35),(3.02,2.32),(2.91,2.38),(2.03,2.40),(2.06,2.32),(2.09,2.27),(2.14,2.32),
    (2.02,2.27),(2.30,2.27),(2.36,2.32),(2.41,2.27),(2.47,2.22),(2.36,2.17),(2.41,2.12),(2.50,2.17),
    (2.33,2.12),(2.14,2.17),(2.09,2.12),(2.06,2.06),(2.22,2.06),(2.28,2.04),(2.44,2.05),(2.50,2.06),
    (2.61,2.12),(2.72,2.14),(2.80,2.09),(2.88,2.17),(2.94,2.19),(2.83,2.12),(2.91,2.06),(2.96,2.04),
    (2.66,2.04),(3.07,2.53),(3.13,2.46),(3.18,2.38),(3.21,2.32),(3.26,2.30),(3.32,2.27),(3.24,2.25),
    (3.15,2.19),(3.24,2.12),(3.32,2.12),(3.40,2.17),(3.35,2.06),(3.40,2.06),(3.21,2.04),(3.46,2.56),
    (3.51,2.51),(3.57,2.53),(3.51,2.43),(3.46,2.38),(3.57,2.46),(3.62,2.48),(3.65,2.59),(3.73,2.48),
    (3.79,2.43),(3.70,2.38),(3.76,2.30),(3.84,2.27),(3.90,2.32),(3.95,2.43),(3.98,2.51),(3.90,2.19),
    (3.84,2.14),(3.90,2.09),(3.95,2.12),(3.79,2.06),(3.73,2.12),(3.57,2.06),(3.62,2.14),(3.51,2.17),
    (3.46,2.22),
    (4.07,3.93),(4.13,3.95),(4.29,3.92),(4.32,3.87),(4.42,3.92),(4.51,3.97),(4.61,3.88),(4.75,3.91),
    (4.79,3.92),(4.84,3.88),(4.90,3.87),(4.73,3.76),(4.65,3.75),(4.60,3.67),(4.51,3.66),(4.65,3.70),
    (4.68,3.66),(4.76,3.63),(4.82,3.69),(4.79,3.58),(4.71,3.61),(4.87,3.59),(4.90,3.66),(4.95,3.76),
    (4.82,3.76),(4.12,3.84),(4.05,3.78),(4.16,3.82),(4.24,3.83),(4.29,3.78),(4.25,3.71),(4.21,3.66),
    (4.27,3.62),(4.32,3.63),(4.03,3.69),(4.05,3.58),(4.13,3.48),(4.05,3.42),(4.03,3.35),(4.10,3.37),
    (4.16,3.40),(4.24,3.45),(4.29,3.37),(4.32,3.29),(4.35,3.24),(4.27,3.21),(4.05,3.27),(4.09,3.21),
    (4.17,3.16),(4.12,3.10),(4.16,3.06),(4.21,3.01),(4.03,3.14),(4.05,3.01),(4.12,2.95),(4.16,2.91),
    (4.03,2.85),(4.07,2.77),(4.16,2.81),(4.27,2.74),(4.32,2.77),(4.03,2.69),(4.05,2.59),(4.12,2.64),
    (4.18,2.59),(4.10,2.49),(4.03,2.46),(4.07,2.40),(4.17,2.36),(4.23,2.32),(4.29,2.38),(4.35,2.32),
    (4.05,2.35),(4.02,2.19),(4.06,2.13),(4.13,2.09),(4.27,2.17),(4.29,2.09),(4.05,2.06),(4.16,2.06),
    (4.21,2.01),(4.29,2.19),(4.24,2.57),(4.32,2.48),(4.32,2.43),(4.31,2.26),(4.28,3.06),(4.32,3.07),
    (4.54,3.45),(4.65,3.38),(4.72,3.41),(4.66,3.32),(4.73,3.31),(4.79,3.32),(4.82,3.27),(4.76,3.21),
    (4.82,3.19),(4.87,3.16),(4.84,3.11),(4.93,3.29),(4.98,3.29),(4.73,3.14),(4.65,3.14),(4.60,3.08),
    (4.64,3.01),(4.71,3.03),(4.73,2.99),(4.73,2.85),(4.87,2.87),(4.82,2.78),(4.84,2.77),(4.90,2.77),
    (4.65,2.69),(4.72,2.64),(4.87,2.63),(4.93,2.65),(4.97,2.68),(4.62,2.55),(4.65,2.49),(4.73,2.51),
    (4.79,2.51),(4.84,2.52),(4.90,2.51),(4.82,2.40),(4.87,2.38),(4.68,2.36),(4.87,2.32),(4.88,2.26),
    (5.04,2.55),(5.15,2.55),(5.02,2.22),(5.04,2.14),(5.08,2.08),(5.15,2.09),(4.61,2.17),(4.62,2.12),
    (4.73,2.17),(4.82,2.06),(4.90,2.06),(4.91,2.17),(5.02,3.01),(5.15,3.01),(5.12,3.44),(5.16,3.33),
    (5.10,2.70),(4.40,2.85),(4.46,3.40),(4.57,3.49),(4.54,2.55),
]

blue_low = [
    (0.09,2.02),(0.16,1.94),(0.24,1.91),(0.45,2.03),(0.53,2.03),(0.86,2.02),(0.97,1.94),(0.99,1.91),
    (0.73,1.91),(0.79,1.87),(0.84,1.88),(0.78,1.85),(0.86,1.81),(0.55,1.86),(0.59,1.87),(0.18,1.73),
    (0.15,1.66),(0.40,1.70),(0.53,1.56),(0.37,1.54),(0.45,1.58),(0.29,1.48),(0.34,1.49),(0.40,1.41),
    (0.26,1.41),(0.22,1.40),(0.31,1.39),(0.37,1.36),(0.04,1.35),(0.20,1.25),(0.31,1.25),(0.41,1.28),
    (0.44,1.31),(0.49,1.31),(0.53,1.28),(0.51,1.23),(0.45,1.20),(0.59,1.41),(0.56,1.35),(0.62,1.28),
    (0.77,1.48),(0.84,1.49),(0.89,1.45),(0.95,1.44),(0.75,1.41),(0.78,1.37),(0.84,1.39),(0.92,1.37),
    (0.97,1.41),(0.96,1.33),(0.93,1.28),(0.86,1.28),(0.78,1.28),(0.73,1.31),(0.70,1.25),(0.73,1.20),
    (0.78,1.18),(0.75,1.14),(0.73,1.08),(0.84,1.18),(0.89,1.20),(0.92,1.15),(0.95,1.11),(1.00,1.12),
    (1.01,1.03),(0.29,1.18),(0.37,1.14),(0.31,1.14),(0.40,1.11),(0.37,1.07),(0.31,1.06),(0.24,1.08),
    (0.20,1.03),(0.49,1.15),(0.55,1.11),(0.51,1.04),(0.34,1.02),(0.40,0.99),(0.37,0.94),(0.42,0.94),
    (0.40,0.89),(0.42,0.83),(0.31,0.89),(0.34,0.83),(0.45,0.99),(0.51,0.98),(0.56,0.93),(0.62,0.94),
    (0.59,0.99),(0.70,0.97),(0.73,0.91),(0.75,0.87),(0.78,0.83),(0.73,0.81),(0.84,0.83),(0.92,0.81),
    (0.78,1.01),(0.86,0.97),(0.04,0.94),(0.15,0.94),(0.31,0.73),(0.40,0.68),(0.48,0.65),(0.70,0.66),
    (0.75,0.65),(0.78,0.64),(0.53,0.55),(0.56,0.52),(0.92,0.55),(0.96,0.48),(0.92,0.39),(0.88,0.36),
    (0.75,0.41),(0.66,0.36),(0.40,0.49),(0.31,0.47),(0.26,0.45),(0.29,0.38),(0.08,0.59),(0.07,0.36),
    (0.04,0.34),(0.01,0.18),(0.29,0.23),(0.26,0.20),(0.30,0.18),(0.34,0.18),(0.27,0.10),(0.45,0.13),
    (0.45,0.05),(0.56,0.20),(0.57,0.17),(0.75,0.22),(0.82,0.30),(0.86,0.28),(0.92,0.28),(0.89,0.01),
    (0.99,0.01),(1.10,0.03),(1.15,0.05),(1.11,0.94),(1.18,1.49),(1.22,1.52),(1.25,1.44),(1.19,1.39),
    (1.30,1.44),(1.33,1.41),(1.38,1.40),(1.41,1.44),(1.43,1.50),(1.41,1.35),(1.44,1.28),(1.48,1.25),
    (1.52,1.20),(1.55,1.25),(1.49,1.31),(1.26,1.33),(1.27,1.25),(1.22,1.20),(1.22,1.12),(1.25,1.04),
    (1.30,1.06),(1.33,1.14),(1.36,1.10),(1.38,1.04),(1.41,0.99),(1.36,0.97),(1.44,0.94),(1.38,0.91),
    (1.49,1.12),(1.58,1.10),(1.32,0.94),(1.23,0.83),(1.37,0.81),(1.55,1.32),(1.60,1.23),(1.65,1.10),
    (1.16,1.74),(1.23,1.88),(1.25,1.82),(1.33,1.70),(1.41,1.73),(1.47,1.77),(1.18,1.73),(1.66,2.03),
    (1.81,1.50),(1.81,1.35),(1.93,1.36),(1.99,1.40),(1.96,1.28),(1.93,1.18),(1.84,1.07),(1.99,1.12),
    (1.96,0.94),(1.99,0.99),(1.76,0.89),(1.26,0.65),(1.41,0.65),(1.59,0.65),(1.29,0.45),(1.37,0.39),
    (1.22,0.38),(1.29,0.38),(1.14,0.36),(1.15,0.32),(1.58,0.39),(1.59,0.41),(1.49,0.38),(1.55,0.19),
    (1.40,0.22),(1.40,0.15),(1.38,0.11),(1.32,0.14),(1.26,0.23),(1.22,0.20),(1.60,0.03),(1.38,0.02),
    (1.21,0.03),(1.77,0.02),(1.91,0.05),(1.93,0.01),(1.99,0.41),(2.00,0.26),(1.80,0.26),
    (2.03,2.02),(2.10,2.02),(2.28,1.99),(2.36,1.99),(2.46,1.96),(2.32,1.92),(2.17,1.87),(2.10,1.81),
    (2.47,1.87),(2.66,1.86),(2.85,1.91),(2.88,1.86),(2.92,1.85),(2.88,2.00),(2.95,2.02),(3.02,2.00),
    (3.00,1.81),(3.25,2.00),(3.35,2.00),(3.46,1.91),(3.55,1.88),(3.68,1.90),(3.73,1.92),(3.87,2.02),
    (3.91,2.00),(3.95,1.88),(3.96,1.78),(3.40,1.78),(3.51,1.70),(3.62,1.67),(3.40,1.62),(3.57,1.57),
    (3.51,1.50),(2.83,1.56),(2.85,1.46),(2.91,1.49),(2.99,1.50),(3.02,1.50),(3.18,1.46),(2.03,1.52),
    (2.09,1.52),(2.06,1.44),(2.14,1.44),(2.09,1.36),(2.02,1.31),(2.06,1.33),(2.30,1.39),(2.39,1.41),
    (2.41,1.36),(2.36,1.31),(2.39,1.25),(2.44,1.36),(2.33,1.36),(2.36,1.18),(2.30,1.11),(2.39,1.14),
    (2.44,1.15),(2.50,1.14),(2.30,1.04),(2.33,0.94),(2.39,0.97),(2.44,0.99),(2.47,0.91),(2.46,0.83),
    (2.40,0.86),(2.25,0.97),(2.19,0.99),(2.14,0.97),(2.09,0.99),(2.03,0.97),(2.02,0.89),(2.06,0.83),
    (2.14,0.86),(2.21,0.86),(2.25,0.89),(2.61,1.23),(2.66,1.20),(2.69,1.25),(2.72,1.33),(2.80,1.33),
    (2.88,1.36),(2.94,1.31),(2.96,1.25),(3.02,1.25),(3.07,1.20),(3.13,1.15),(3.18,1.12),(3.13,1.20),
    (2.88,1.20),(2.83,1.18),(2.80,1.10),(2.85,1.10),(2.91,1.12),(2.94,1.04),(2.96,0.99),(3.02,1.04),
    (2.88,1.02),(2.74,0.99),(2.80,0.97),(2.72,0.91),(2.77,0.89),(2.85,0.94),(2.91,0.99),(2.96,0.86),
    (3.02,0.83),(3.07,0.78),(3.13,0.73),(3.07,0.94),(3.15,0.94),(3.21,0.94),(3.26,0.97),(3.18,0.89),
    (3.24,0.83),(3.29,0.91),(3.35,0.97),(3.40,0.97),(3.26,1.10),(3.35,1.15),(3.40,1.15),(3.29,1.25),
    (3.35,1.36),(3.35,1.44),(3.29,1.49),(3.26,1.33),(3.40,1.33),(3.46,1.31),(3.51,1.36),(3.57,1.39),
    (3.62,1.41),(3.62,1.31),(3.57,1.25),(3.51,1.23),(3.46,1.25),(3.40,1.20),(3.48,1.10),(3.51,1.04),
    (3.57,1.04),(3.62,1.04),(3.68,1.10),(3.70,1.18),(3.73,1.25),(3.70,1.33),(3.68,1.41),(3.73,1.46),
    (3.79,1.41),(3.76,1.33),(3.73,1.23),(3.79,1.20),(3.79,1.04),(3.84,1.25),(3.90,1.31),(3.95,1.36),
    (4.01,1.39),(3.95,1.25),(3.90,1.20),(3.95,1.20),(4.01,1.23),(3.95,0.99),(4.01,0.94),(3.48,0.99),
    (3.51,0.94),(3.57,0.97),(3.62,0.89),(3.68,0.86),(3.73,0.89),(3.79,0.94),(3.84,0.94),(3.79,0.83),
    (3.65,0.81),(3.59,0.78),(3.48,0.86),(3.48,0.76),(3.62,0.65),(3.40,0.65),(3.35,0.62),(3.21,0.65),
    (2.88,0.65),(2.94,0.62),(2.96,0.52),(3.02,0.47),(2.80,0.41),(2.74,0.49),(2.66,0.70),(2.66,0.65),
    (2.50,0.66),(2.17,0.73),(2.19,0.68),(2.25,0.70),(2.28,0.68),(2.30,0.65),(2.19,0.76),(2.02,0.68),
    (2.03,0.62),(2.39,0.53),(2.44,0.49),(2.47,0.44),(2.50,0.39),(2.41,0.36),(2.36,0.47),(2.30,0.41),
    (2.22,0.44),(2.09,0.47),(2.03,0.40),(2.66,0.52),(2.72,0.49),(2.77,0.28),(2.80,0.23),(2.85,0.18),
    (2.80,0.15),(2.88,0.15),(2.91,0.26),(2.72,0.15),(2.66,0.20),(2.58,0.13),(2.52,0.10),(2.47,0.10),
    (2.41,0.15),(2.33,0.20),(2.25,0.20),(2.19,0.23),(2.17,0.20),(2.14,0.15),(2.06,0.05),(2.14,0.02),
    (2.25,0.05),(2.33,0.10),(2.39,0.05),(2.44,0.02),(2.52,0.02),(2.77,0.05),(2.85,0.02),(2.96,0.05),
    (3.07,0.20),(3.13,0.18),(3.21,0.15),(3.24,0.20),(3.26,0.23),(3.29,0.20),(3.35,0.20),(3.40,0.18),
    (3.35,0.13),(3.24,0.02),(3.18,0.05),(3.48,0.02),(3.57,0.05),(3.68,0.02),(3.73,0.02),(3.79,0.05),
    (3.90,0.07),(3.95,0.10),(3.90,0.15),(3.95,0.20),(3.98,0.26),(3.57,0.20),(3.62,0.18),(3.68,0.20),
    (3.59,0.23),(3.07,0.47),(3.15,0.47),(3.24,0.49),(3.26,0.52),(3.37,0.52),(3.40,0.47),(3.43,0.44),
    (3.37,0.41),(3.35,0.39),(3.40,0.36),(3.62,0.57),(3.68,0.52),(3.70,0.47),(3.76,0.44),(3.79,0.41),
    (3.84,0.60),(3.95,0.57),(4.01,0.47),(3.51,0.23),(3.48,0.31),(3.02,0.10),(3.05,0.02),(2.88,0.05),
    (3.87,1.46),(3.92,1.43),
    (4.25,2.02),(4.12,1.86),(4.24,1.83),(4.29,1.83),(4.64,1.91),(4.68,1.86),(4.86,1.85),(4.90,1.83),
    (4.94,1.83),(5.01,1.86),(4.72,1.73),(4.65,1.67),(4.55,1.50),(4.58,1.48),(4.69,1.50),(4.73,1.53),
    (4.79,1.52),(4.77,1.44),(4.88,1.45),(4.93,1.43),(4.97,1.44),(5.02,1.45),(5.01,1.37),(4.90,1.33),
    (4.84,1.37),(4.83,1.28),(4.79,1.25),(4.73,1.23),(4.71,1.18),(4.66,1.20),(4.62,1.15),(4.54,1.23),
    (4.54,1.33),(4.51,1.28),(4.60,1.33),(4.64,1.32),(4.68,1.28),(4.73,1.31),(4.76,1.33),(4.82,1.20),
    (4.87,1.20),(4.93,1.18),(4.87,1.14),(4.82,1.10),(4.76,1.07),(4.71,1.07),(4.65,1.07),(4.60,1.07),
    (4.95,1.10),(4.90,1.06),(4.51,1.11),(4.43,1.12),(4.32,1.11),(4.20,1.58),(4.10,1.54),(4.05,1.49),
    (4.29,1.49),(4.34,1.41),(4.07,1.40),(4.03,1.33),(4.10,1.33),(4.16,1.31),(4.06,1.25),(4.13,1.23),
    (4.29,1.28),(4.32,1.23),(4.35,1.18),(4.03,1.15),(4.07,1.12),(4.13,1.15),(4.18,1.15),(4.16,1.07),
    (4.10,1.04),(4.05,1.02),(4.21,1.04),(4.27,1.02),(4.32,0.94),(4.29,0.89),(4.18,0.89),(4.10,0.89),
    (4.03,0.86),(4.07,0.83),(4.21,0.97),(4.27,0.97),(4.16,0.97),(4.10,0.94),(4.03,0.94),(4.55,0.83),
    (4.66,0.90),(4.73,0.97),(4.76,1.02),(4.80,1.01),(4.79,0.94),(4.84,0.89),(4.73,0.82),(4.65,0.82),
    (4.61,0.78),(4.87,0.99),(5.01,0.94),(5.02,0.83),(5.01,0.78),(4.90,0.82),(4.83,0.70),(4.79,0.65),
    (4.87,0.62),(4.90,0.65),(4.98,0.66),(5.01,0.68),(4.72,0.66),(4.69,0.57),(4.58,0.55),(4.35,0.56),
    (4.28,0.49),(4.73,0.49),(5.01,0.48),(4.75,0.38),(4.79,0.36),(4.61,0.39),(4.17,0.40),(4.09,0.39),
    (4.03,0.36),(4.24,0.41),(4.27,0.47),(4.21,0.36),(4.27,0.26),(4.24,0.23),(4.16,0.23),(4.12,0.20),
    (4.03,0.18),(4.07,0.09),(4.18,0.03),(4.66,0.26),(4.71,0.26),(4.76,0.23),(4.82,0.23),(4.87,0.23),
    (4.73,0.18),(4.87,0.10),(4.90,0.07),(4.93,0.05),(4.98,0.23),(5.01,0.22),(4.68,0.10),(4.72,0.09),
]

# runs of neighbouring hits that read as solid strokes: (start, end) in Mb
red_runs = [((1.22, 3.11), (1.38, 3.25))]
blue_runs = [
    ((1.45, 5.19), (1.85, 4.72)), ((0.92, 4.71), (1.23, 4.45)), ((0.99, 4.93), (1.06, 4.85)),
    ((0.20, 4.69), (0.47, 4.68)), ((0.00, 3.68), (0.07, 3.62)), ((2.47, 1.87), (2.73, 1.63)),
    ((4.87, 0.52), (5.15, 0.26)), ((4.69, 0.49), (4.90, 0.34)), ((4.46, 0.18), (4.60, 0.03)),
    ((0.07, 2.02), (0.26, 1.90)), ((0.18, 1.58), (0.40, 1.46)), ((0.57, 1.66), (0.68, 1.52)),
    ((0.04, 0.61), (0.11, 0.55)), ((4.87, 2.59), (4.99, 2.68)),
]

ticks = [0, 1000000, 2000000, 3000000, 4000000, 5000000, 6000000]
x_label = "REF"
y_label = "Xanb_juglandis_CPBF427"

red_c = "#ff0000"
blue_c = "#0080ff"
MB = 1e6
DOT = 34      # marker area, points^2
STROKE = 5.8  # width of the run strokes, points

fig = plt.figure(figsize=(8, 8), dpi=100)
ax = fig.add_axes([55 / 800, 26 / 800, 729 / 800, 764 / 800])

red_all = red_top + red_mid + red_low
blue_all = blue_top + blue_mid + blue_low

for (x0, y0), (x1, y1) in red_runs:
    ax.plot([x0 * MB, x1 * MB], [y0 * MB, y1 * MB], color=red_c, lw=STROKE,
            solid_capstyle="round", zorder=2)
ax.scatter([p[0] * MB for p in red_all], [p[1] * MB for p in red_all],
           s=DOT, c=red_c, linewidths=0, zorder=2)

for (x0, y0), (x1, y1) in blue_runs:
    ax.plot([x0 * MB, x1 * MB], [y0 * MB, y1 * MB], color=blue_c, lw=STROKE,
            solid_capstyle="round", zorder=3)
ax.scatter([p[0] * MB for p in blue_all], [p[1] * MB for p in blue_all],
           s=DOT, c=blue_c, linewidths=0, zorder=3)

ax.set_xlim(0, 6000000)
ax.set_ylim(0, 6000000)
ax.set_xticks(ticks)
ax.set_yticks(ticks)
ax.set_xticklabels([str(t) for t in ticks])
ax.set_yticklabels([str(t) for t in ticks])
for s in ax.spines.values():
    s.set_visible(False)
ax.grid(True, color="#a0a0a0", linestyle=(0, (2, 3)), linewidth=1)
ax.set_axisbelow(True)
ax.tick_params(length=0, labelsize=6.2)
ax.tick_params(axis="y", pad=4)
ax.tick_params(axis="x", pad=5)
for lab in ax.get_xticklabels() + ax.get_yticklabels():
    lab.set_family("DejaVu Sans Mono")
    lab.set_fontweight("bold")

fig.text(390 / 800, 1 - 792 / 800, x_label, ha="center", va="center",
         family="DejaVu Sans Mono", fontsize=6.2, fontweight="bold")
fig.text(7 / 800, 1 - 396 / 800, y_label, ha="center", va="center", rotation=90,
         family="DejaVu Sans Mono", fontsize=6.2, fontweight="bold")

fig.savefig("out.png", dpi=100)
